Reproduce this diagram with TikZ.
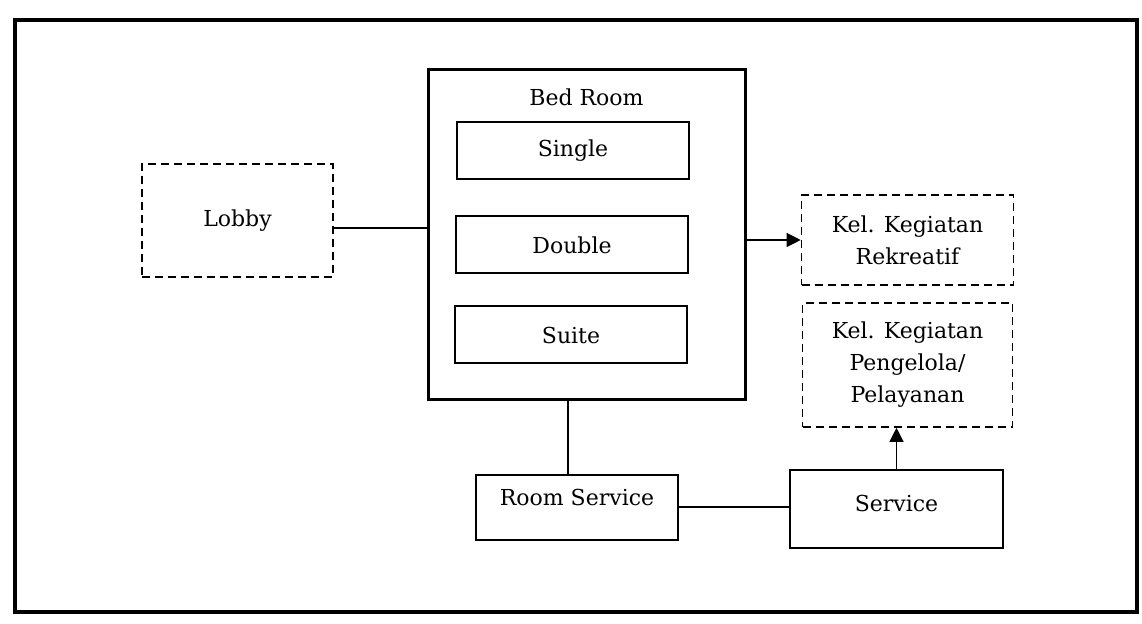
\documentclass[tikz,border=0pt]{standalone}
\usepackage{fontspec}
\setmainfont{DejaVu Serif}
\usetikzlibrary{arrows.meta,positioning,calc}

\begin{document}
\begin{tikzpicture}[x=0.5pt, y=-0.5pt,
        every node/.style={font=\fontsize{11}{16}\selectfont, align=center},
        frame/.style={line width=2pt},
        roomgroup/.style={draw, line width=1.5pt, minimum width=158.5pt, minimum height=165pt},
        roombox/.style={draw, line width=1pt, minimum width=116pt, minimum height=28.5pt},
        zone/.style={draw, dash pattern=on 4pt off 2.5pt, line width=0.8pt},
        unit/.style={draw, line width=1pt},
        link/.style={line width=1pt},
        flow/.style={line width=0.6pt, -{Triangle[length=7pt,width=7pt]}}
      ]
        % feste Bildgroesse
        \useasboundingbox (0,0) rectangle (1142,624);

        % Rahmen
        \draw[frame] (15,20) rectangle (1137,612);

        % Zonen
        \node[zone, minimum width=95.5pt, minimum height=56.5pt] (lobby) at (237.5,220.5) {Lobby};
        \node[zone, minimum width=106pt, minimum height=45pt] (rekreatif) at (907.5,240) {Kel. Kegiatan\\Rekreatif};
        \node[zone, minimum width=105pt, minimum height=62pt] (pengelola) at (907.5,365) {Kel. Kegiatan\\Pengelola/\\Pelayanan};

        % Bed Room mit Zimmertypen
        \node[roomgroup] (bed) at (586.5,235) {};
        \node (bedtitle) at (586.5,97) {Bed Room};
        \node[roombox] (single) at (573,150.5) {Single};
        \node[roombox] (double) at (572,245) {Double};
        \node[roombox] (suite) at (571,335) {Suite};

        % Service (Text etwas nach oben)
        \node[unit, text depth=10pt, minimum width=101pt, minimum height=32.5pt] (roomsvc) at (577,507.5) {Room Service};
        \node[unit, text depth=6pt, minimum width=106.5pt, minimum height=39pt] (service) at (896.5,509) {Service};

        % Verbindungen
        \coordinate (lobbyout) at ([yshift=-4pt]lobby.east);
        \coordinate (rstop) at ([xshift=-4.5pt]roomsvc.north);
        \draw[link] (lobbyout) -- (lobbyout -| bed.west);
        \draw[flow] (bed.east |- rekreatif.west) -- (rekreatif.west);
        \draw[link] (rstop) -- (rstop |- bed.south);
        \draw[link] (roomsvc.east) -- (roomsvc.east -| service.west);
        \draw[flow] (service.north) -- (service.north |- pengelola.south);
      \end{tikzpicture}
\end{document}
